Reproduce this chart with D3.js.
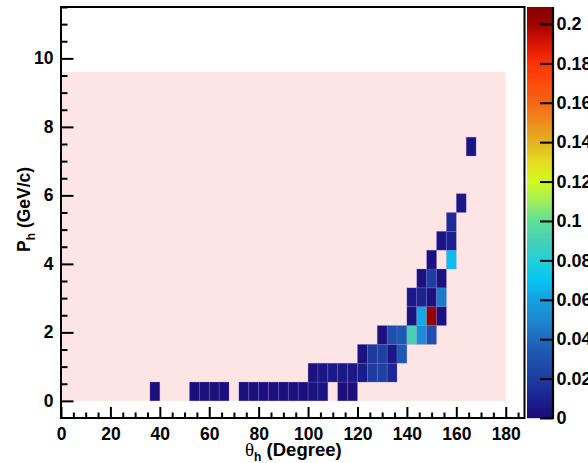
<!DOCTYPE html>
<html><head><meta charset="utf-8">
<script src="https://cdn.jsdelivr.net/npm/d3@7"></script>
<style>
body{margin:0;background:#fff;}
svg{display:block;}
text{font-family:"Liberation Sans",Arial,Helvetica,sans-serif;font-weight:bold;fill:#000;}
</style>
</head><body>
<svg id="chart" width="588" height="463"></svg>
<script>
// ---------- data ----------
const thetaBinWidth = 4;      // degrees
const pBinWidth = 0.55;       // GeV/c
const histThetaRange = [0, 180];
const histPRange = [0, 9.6];

// lower bin edges (theta in degrees, P in GeV/c) and bin contents
const cellTheta = [36, 52, 56, 60, 64, 72, 76, 80, 84, 88, 92, 96, 100, 104, 112, 116,
                   100, 104, 108, 112, 116, 120, 124, 128, 132,
                   120, 124, 128, 132, 136,
                   128, 132, 136, 140, 144, 148,
                   140, 144, 148, 152,
                   140, 144, 148, 152,
                   144, 148, 152,
                   148, 156,
                   152, 156,
                   156,
                   160,
                   164];
const cellP = [0, 0, 0, 0, 0, 0, 0, 0, 0, 0, 0, 0, 0, 0, 0, 0,
               0.55, 0.55, 0.55, 0.55, 0.55, 0.55, 0.55, 0.55, 0.55,
               1.1, 1.1, 1.1, 1.1, 1.1,
               1.65, 1.65, 1.65, 1.65, 1.65, 1.65,
               2.2, 2.2, 2.2, 2.2,
               2.75, 2.75, 2.75, 2.75,
               3.3, 3.3, 3.3,
               3.85, 3.85,
               4.4, 4.4,
               4.95,
               5.5,
               7.15];
const cellValue = [0.002, 0.002, 0.002, 0.002, 0.002, 0.002, 0.002, 0.002, 0.002, 0.002, 0.002, 0.003, 0.004, 0.004, 0.002, 0.002,
                   0.003, 0.005, 0.006, 0.006, 0.006, 0.007, 0.020, 0.022, 0.012,
                   0.003, 0.019, 0.022, 0.006, 0.034,
                   0.003, 0.029, 0.033, 0.090, 0.052, 0.030,
                   0.003, 0.063, 0.203, 0.003,
                   0.006, 0.010, 0.003, 0.045,
                   0.003, 0.021, 0.003,
                   0.003, 0.068,
                   0.004, 0.008,
                   0.013,
                   0.005,
                   0.004];

const xTickValues = [0, 20, 40, 60, 80, 100, 120, 140, 160, 180];
const yTickValues = [0, 2, 4, 6, 8, 10];
const zTickValues = [0, 0.02, 0.04, 0.06, 0.08, 0.1, 0.12, 0.14, 0.16, 0.18, 0.2];
const zTickLabels = ["0", "0.02", "0.04", "0.06", "0.08", "0.1", "0.12", "0.14", "0.16", "0.18", "0.2"];

// palette stops
const paletteValues = [0, 0.008, 0.02, 0.035, 0.05, 0.062, 0.07, 0.08, 0.09, 0.10, 0.11, 0.12, 0.13, 0.14, 0.15, 0.16, 0.17, 0.18, 0.19, 0.20, 0.21];
const paletteColors = ["#1c0b78", "#1a1e8e", "#1e3ca0", "#1e5cb6", "#1e88d0", "#12a6e4", "#06c6f2", "#22d0d8", "#48d0b4", "#5ee098",
                       "#a0ee5a", "#d2fa20", "#e6dc20", "#e2b224", "#ee8c1c", "#f46616", "#ff4a0c", "#ff3206", "#d81404", "#a00000", "#800000"];

// ---------- layout ----------
const svg = d3.select("#chart");
const frame = {left: 61, right: 524.5, top: 7, bottom: 418};
const cbar = {left: 527, right: 553};

const x = d3.scaleLinear().domain([0, 187.6]).range([frame.left, frame.right]);
const y = d3.scaleLinear().domain([-0.5, 11.5]).range([frame.bottom, frame.top]);
const z = d3.scaleLinear().domain([0, 0.2086]).range([frame.bottom, frame.top]);
const color = d3.scaleLinear().domain(paletteValues).range(paletteColors).clamp(true);

// pink histogram area
svg.append("rect")
  .attr("x", x(histThetaRange[0])).attr("y", y(histPRange[1]))
  .attr("width", x(histThetaRange[1]) - x(histThetaRange[0]))
  .attr("height", y(histPRange[0]) - y(histPRange[1]))
  .attr("fill", "#fde5e5");

// cells
const cells = cellTheta.map((t, i) => ({t, p: cellP[i], v: cellValue[i]}));
svg.append("g").selectAll("rect").data(cells).join("rect")
  .attr("x", d => x(d.t))
  .attr("y", d => y(d.p + pBinWidth))
  .attr("width", d => x(d.t + thetaBinWidth) - x(d.t))
  .attr("height", d => y(d.p) - y(d.p + pBinWidth))
  .attr("fill", d => color(d.v))
  .attr("stroke", "rgba(150,130,200,0.35)")
  .attr("stroke-width", 0.7);

// x axis
const fs = 17.5;
const xMinor = d3.range(0, 188, 5).filter(v => !xTickValues.includes(v));
const gx = svg.append("g").attr("transform", `translate(0,${frame.bottom})`);
gx.call(d3.axisBottom(x).tickValues(xTickValues).tickSize(-11).tickSizeOuter(0).tickPadding(9.5).tickFormat(d3.format("d")));
const gxm = svg.append("g").attr("transform", `translate(0,${frame.bottom})`);
gxm.call(d3.axisBottom(x).tickValues(xMinor).tickSize(-5.5).tickSizeOuter(0).tickFormat(""));

// y axis
const yMinor = d3.range(-0.5, 11.51, 0.5).filter(v => !yTickValues.includes(v) && v > -0.5);
const gy = svg.append("g").attr("transform", `translate(${frame.left},0)`);
gy.call(d3.axisLeft(y).tickValues(yTickValues).tickSize(-12.5).tickSizeOuter(0).tickPadding(7.5).tickFormat(d3.format("d")));
const gym = svg.append("g").attr("transform", `translate(${frame.left},0)`);
gym.call(d3.axisLeft(y).tickValues(yMinor).tickSize(-6.5).tickSizeOuter(0).tickFormat(""));

[gx, gxm, gy, gym].forEach(g => {
  g.select(".domain").remove();
  g.selectAll("line").attr("stroke", "#000").attr("stroke-width", 2);
  g.selectAll("text").attr("font-size", fs).attr("font-family", null).style("font-weight", "bold");
});

// frame
svg.append("rect")
  .attr("x", frame.left).attr("y", frame.top)
  .attr("width", frame.right - frame.left).attr("height", frame.bottom - frame.top)
  .attr("fill", "none").attr("stroke", "#000").attr("stroke-width", 2);

// colorbar
const cb = svg.append("g");
const pix = d3.range(frame.top, frame.bottom, 1);
cb.selectAll("rect").data(pix).join("rect")
  .attr("x", cbar.left).attr("y", d => d)
  .attr("width", cbar.right - cbar.left).attr("height", 1.2)
  .attr("fill", d => color(z.invert(d + 0.5)));
const gz = svg.append("g").attr("transform", `translate(${cbar.right},0)`);
gz.call(d3.axisRight(z).tickValues(zTickValues).tickSize(-13).tickSizeOuter(0).tickPadding(3.5)
  .tickFormat((d, i) => zTickLabels[i]));
gz.select(".domain").attr("stroke", "#000").attr("stroke-width", 2.2)
  .attr("d", `M0,${frame.top}V${frame.bottom + 1}`);
gz.selectAll("line").attr("stroke", "#000").attr("stroke-width", 2);
gz.selectAll("text").attr("font-size", 18).attr("font-family", null).style("font-weight", "bold");

// axis titles
const xt = svg.append("text").attr("x", 245).attr("y", 456).attr("font-size", 18.5);
xt.append("tspan").text("θ").style("font-family", "'Liberation Serif','DejaVu Serif',serif").style("font-weight", "normal").attr("font-size", 19);
xt.append("tspan").text("h").attr("font-size", 12).attr("dy", 5);
xt.append("tspan").text(" (Degree)").attr("dy", -5);

const yt = svg.append("text").attr("transform", "translate(29.5,252) rotate(-90)").attr("font-size", fs);
yt.append("tspan").text("P");
yt.append("tspan").text("h").attr("font-size", 12).attr("dy", 5);
yt.append("tspan").text(" (GeV/c)").attr("dy", -5);
</script>
</body></html>
